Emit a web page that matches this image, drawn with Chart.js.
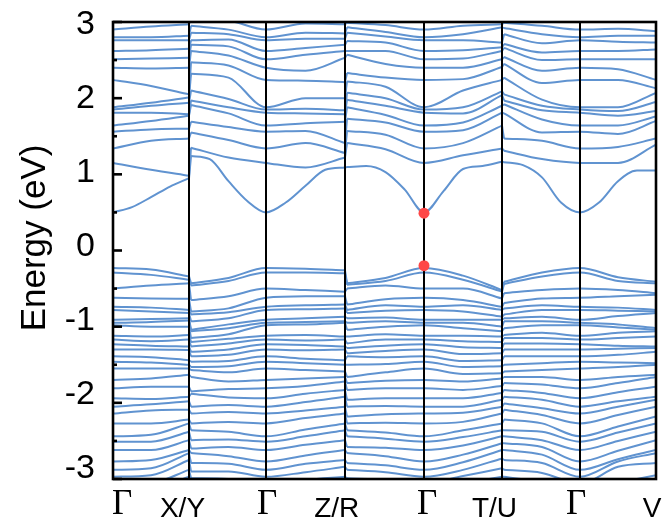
<!DOCTYPE html>
<html><head><meta charset="utf-8">
<script src="https://cdn.jsdelivr.net/npm/chart.js@4.4.0/dist/chart.umd.min.js"></script>
<style>html,body{margin:0;padding:0;background:#fff}#wrap{width:662px;height:526px}</style>
</head><body><div id="wrap"><canvas id="c" width="662" height="526"></canvas></div>
<script>
// ---- k-path ----
const kNodes  = [0, 0.76, 1.53, 2.32, 3.11, 3.89, 4.67, 5.43];
const kLabels = ['Γ', 'X/Y', 'Γ', 'Z/R', 'Γ', 'T/U', 'Γ', 'V'];
const yTicks  = [3, 2, 1, 0, -1, -2, -3];
// sample points along the path (duplicated nodes at X/Y, Z/R, T/U)
const kCoarse = [0, 0.38, 0.76, 0.78, 1.155, 1.53, 1.925, 2.32, 2.34, 2.725, 3.11, 3.50, 3.89, 3.91, 4.29, 4.67, 5.05, 5.43];
const kFine = [0, 0.19, 0.38, 0.57, 0.76,
               0.78, 0.9675, 1.155, 1.3425, 1.53,
               1.7275, 1.925, 2.1225, 2.32,
               2.34, 2.5325, 2.725, 2.9175, 3.11,
               3.305, 3.50, 3.695, 3.89,
               3.91, 4.10, 4.29, 4.48, 4.67,
               4.86, 5.05, 5.24, 5.43];
// lowest conduction band (on kFine)
const lowestCB = [0.50, 0.57, 0.70, 0.84, 0.95,
                  1.24, 1.20, 0.91, 0.65, 0.50,
                  0.63, 0.85, 1.06, 1.09,
                  1.095, 1.11, 1.03, 0.80, 0.50,
                  0.78, 1.07, 1.11, 1.165,
                  1.16, 1.12, 0.96, 0.63, 0.50,
                  0.63, 0.91, 1.05, 1.05];
// band gap edge markers at Γ (eV)
const gapEdges = [0.49, -0.20];

// ---- other conduction bands: energies at each kCoarse point ----
const cG  = [1.15,1.34,1.56,1.64,1.81,1.85,1.88,2.24,2.40,2.51,2.62,2.76,2.80,2.90,3.04];
const cM1 = [1.06,1.44,1.59,1.70,1.81,1.90,1.94,2.16,2.39,2.52,2.63,2.76,2.80,2.94,3.06];
const cX  = [0.98,1.47,1.60,1.77,1.79,1.94,2.01,2.05,2.40,2.53,2.65,2.76,2.82,2.97,3.08];
const cY  = [1.35,1.55,1.69,1.91,1.97,2.10,2.32,2.47,2.62,2.70,2.76,2.86,2.95,3.05,3.12];
const cM2 = [1.22,1.45,1.62,1.80,1.88,1.99,2.27,2.43,2.56,2.68,2.77,2.84,2.90,3.02,3.10];
const cM3 = [1.09,1.41,1.57,1.67,1.80,1.86,2.00,2.23,2.36,2.57,2.66,2.78,2.86,2.98,3.04];
const cZ  = [1.22,1.28,1.41,1.69,1.79,1.84,2.00,2.21,2.53,2.62,2.70,2.78,2.85,2.97,3.00];
const cR  = [1.41,1.57,1.73,1.88,1.98,2.07,2.22,2.33,2.57,2.62,2.75,2.86,2.93,2.99,3.05];
const cM4 = [1.33,1.52,1.68,1.78,1.90,2.00,2.15,2.27,2.45,2.62,2.73,2.81,2.87,2.96,3.03];
const cM5 = [1.25,1.41,1.58,1.68,1.80,1.88,2.10,2.25,2.40,2.52,2.63,2.76,2.84,2.95,3.02];
const cT  = [1.34,1.64,1.81,1.90,2.04,2.09,2.24,2.41,2.51,2.62,2.67,2.73,2.93,2.97,3.00];
const cU  = [1.31,1.47,1.80,1.92,1.97,2.05,2.27,2.45,2.54,2.66,2.71,2.84,2.92,2.99,3.06];
const cM6 = [1.20,1.44,1.55,1.72,1.84,1.90,1.98,2.20,2.36,2.50,2.60,2.72,2.84,2.95,3.04];
const cM7 = [1.15,1.36,1.53,1.64,1.77,1.83,1.88,2.24,2.38,2.51,2.62,2.74,2.82,2.91,3.03];
const cV  = [1.39,1.47,1.70,1.76,1.83,1.95,2.07,2.13,2.24,2.51,2.64,2.73,2.82,2.88,3.05];

// ---- valence bands: energies at each kCoarse point ----
const vG  = [-0.23,-0.29,-0.50,-0.62,-0.74,-0.78,-0.91,-0.95,-0.98,-1.12,-1.17,-1.23,-1.30,-1.39,-1.46,-1.55,-1.70,-1.81,-1.94,-2.05,-2.14,-2.27,-2.44,-2.51,-2.62,-2.77,-2.88,-2.97,-3.06,-3.15];
const vM1 = [-0.25,-0.32,-0.46,-0.63,-0.75,-0.80,-0.90,-0.94,-1.00,-1.13,-1.19,-1.25,-1.30,-1.40,-1.47,-1.55,-1.68,-1.79,-1.95,-2.02,-2.10,-2.27,-2.42,-2.51,-2.62,-2.75,-2.86,-2.95,-3.05,-3.14];
const vX  = [-0.34,-0.385,-0.43,-0.635,-0.78,-0.82,-0.89,-0.92,-1.00,-1.11,-1.17,-1.26,-1.305,-1.44,-1.50,-1.55,-1.63,-1.79,-1.92,-1.98,-2.09,-2.22,-2.27,-2.38,-2.49,-2.62,-2.66,-2.75,-2.88,-2.97];
const vY  = [-0.43,-0.46,-0.65,-0.80,-0.84,-0.93,-1.04,-1.06,-1.15,-1.20,-1.26,-1.33,-1.39,-1.46,-1.53,-1.57,-1.66,-1.85,-1.88,-2.05,-2.14,-2.27,-2.36,-2.49,-2.60,-2.66,-2.79,-2.90,-2.99,-3.08];
const vM2 = [-0.36,-0.40,-0.60,-0.76,-0.81,-0.89,-0.97,-1.02,-1.10,-1.16,-1.22,-1.30,-1.37,-1.45,-1.52,-1.60,-1.72,-1.82,-1.93,-2.03,-2.12,-2.25,-2.38,-2.48,-2.58,-2.70,-2.80,-2.90,-3.00,-3.10];
const vM3 = [-0.24,-0.29,-0.52,-0.60,-0.72,-0.77,-0.89,-0.94,-0.97,-1.11,-1.18,-1.24,-1.31,-1.42,-1.48,-1.57,-1.68,-1.78,-1.88,-1.99,-2.10,-2.20,-2.35,-2.44,-2.55,-2.69,-2.80,-2.91,-3.01,-3.10];
const vZ  = [-0.26,-0.30,-0.54,-0.60,-0.71,-0.76,-0.87,-0.93,-0.95,-1.13,-1.17,-1.26,-1.30,-1.44,-1.50,-1.59,-1.66,-1.72,-1.83,-1.92,-2.05,-2.14,-2.27,-2.36,-2.49,-2.62,-2.75,-2.84,-2.97,-3.06];
const vR  = [-0.43,-0.45,-0.50,-0.71,-0.78,-0.82,-0.89,-0.95,-1.04,-1.13,-1.22,-1.28,-1.35,-1.39,-1.50,-1.66,-1.74,-1.83,-1.96,-2.05,-2.18,-2.27,-2.36,-2.44,-2.58,-2.66,-2.79,-2.88,-2.99,-3.08];
const vM4 = [-0.36,-0.40,-0.46,-0.64,-0.72,-0.79,-0.88,-0.93,-1.00,-1.10,-1.17,-1.25,-1.32,-1.40,-1.49,-1.60,-1.71,-1.81,-1.94,-2.04,-2.15,-2.26,-2.39,-2.47,-2.59,-2.70,-2.82,-2.91,-3.01,-3.10];
const vM5 = [-0.33,-0.385,-0.50,-0.65,-0.72,-0.80,-0.91,-0.95,-1.02,-1.12,-1.19,-1.27,-1.36,-1.45,-1.53,-1.62,-1.72,-1.83,-1.94,-2.05,-2.13,-2.25,-2.36,-2.45,-2.56,-2.68,-2.78,-2.88,-2.96,-3.06];
const vT  = [-0.52,-0.54,-0.63,-0.74,-0.78,-0.87,-0.91,-1.00,-1.06,-1.13,-1.20,-1.28,-1.35,-1.44,-1.52,-1.61,-1.68,-1.78,-1.87,-1.96,-2.05,-2.14,-2.27,-2.36,-2.44,-2.53,-2.62,-2.73,-2.86,-2.97];
const vU  = [-0.41,-0.44,-0.56,-0.69,-0.76,-0.84,-0.89,-0.93,-1.02,-1.11,-1.15,-1.22,-1.30,-1.39,-1.50,-1.59,-1.66,-1.74,-1.83,-1.92,-2.01,-2.09,-2.22,-2.36,-2.44,-2.53,-2.62,-2.75,-2.88,-2.97];
const vM6 = [-0.29,-0.34,-0.52,-0.63,-0.72,-0.78,-0.87,-0.93,-0.98,-1.08,-1.15,-1.22,-1.30,-1.39,-1.48,-1.57,-1.66,-1.76,-1.87,-1.96,-2.07,-2.16,-2.27,-2.38,-2.49,-2.58,-2.68,-2.79,-2.92,-3.04];
const vM7 = [-0.35,-0.40,-0.52,-0.60,-0.75,-0.79,-0.86,-0.97,-1.01,-1.08,-1.15,-1.25,-1.29,-1.37,-1.47,-1.53,-1.66,-1.74,-1.86,-1.98,-2.05,-2.16,-2.31,-2.39,-2.50,-2.63,-2.74,-2.77,-2.84,-3.05];
const vV  = [-0.41,-0.43,-0.56,-0.58,-0.78,-0.80,-0.82,-1.02,-1.04,-1.06,-1.13,-1.26,-1.28,-1.33,-1.48,-1.50,-1.63,-1.66,-1.79,-1.92,-1.96,-2.05,-2.18,-2.27,-2.38,-2.49,-2.62,-2.66,-2.79,-2.95];

// columns in kCoarse order
const cbCols = [cG, cM1, cX, cY, cM2, cG, cM3, cZ, cR, cM4, cG, cM5, cT, cU, cM6, cG, cM7, cV];
const vbCols = [vG, vM1, vX, vY, vM2, vG, vM3, vZ, vR, vM4, vG, vM5, vT, vU, vM6, vG, vM7, vV];

// continuous pieces of the path (index ranges) and the jumps between them
const coarsePieces = [[0, 2], [3, 7], [8, 12], [13, 17]];
const finePieces   = [[0, 4], [5, 13], [14, 22], [23, 31]];

// ---- styles ----
const BAND_COLOR = 'rgb(96,147,208)';
const smoothStyle = { borderColor: BAND_COLOR, borderWidth: 2, pointRadius: 0,
  cubicInterpolationMode: 'monotone', fill: false, clip: 0 };
const jumpStyle = { borderColor: BAND_COLOR, borderWidth: 2, pointRadius: 0, tension: 0, fill: false, clip: 0 };

const datasets = [];
datasets.push({ type: 'scatter', data: gapEdges.map(e => ({ x: kNodes[4], y: e })),
  pointRadius: 5.5, pointBackgroundColor: '#ff4747', pointBorderWidth: 0, showLine: false, clip: false });
kNodes.slice(1, -1).forEach(k => datasets.push({ data: [{ x: k, y: -3 }, { x: k, y: 3 }],
  borderColor: '#000', borderWidth: 2, pointRadius: 0, clip: 0 }));

function addBand(ks, es, pieces) {
  const pts = ks.map((k, i) => ({ x: k, y: es[i] }));
  pieces.forEach(([a, b], j) => {
    datasets.push(Object.assign({ data: pts.slice(a, b + 1) }, smoothStyle));
    if (j < pieces.length - 1)
      datasets.push(Object.assign({ data: [pts[b], pts[pieces[j + 1][0]]] }, jumpStyle));
  });
}
addBand(kFine, lowestCB, finePieces);
for (let b = 0; b < cG.length; b++) addBand(kCoarse, cbCols.map(col => col[b]), coarsePieces);
for (let b = 0; b < vG.length; b++) addBand(kCoarse, vbCols.map(col => col[b]), coarsePieces);

const labelOffsets = [9, -6.5, 1, -8.3, 3, -7.5, -4, -4];
const decor = {
  id: 'decor',
  afterDatasetsDraw(chart) {
    const { ctx, chartArea: a, scales: { y: ys, x: xs } } = chart;
    ctx.save();
    ctx.strokeStyle = '#000'; ctx.lineWidth = 2.6;
    ctx.strokeRect(a.left, a.top, a.right - a.left, a.bottom - a.top);
    for (let v = -3; v <= 3.001; v += 0.5) {
      const py = ys.getPixelForValue(v);
      const len = Math.abs(v - Math.round(v)) < 0.01 ? 9 : 4;
      ctx.beginPath(); ctx.moveTo(a.left, py); ctx.lineTo(a.left + len, py); ctx.stroke();
    }
    ctx.fillStyle = '#000';
    ctx.font = '34px "Liberation Sans", Arial, sans-serif';
    ctx.textAlign = 'right'; ctx.textBaseline = 'alphabetic';
    yTicks.forEach(v => {
      const py = ys.getPixelForValue(v) - (3 - v) * 2.3 + 12.3;
      ctx.fillText(String(v), 95, py);
    });
    ctx.save();
    ctx.translate(45, 238); ctx.rotate(-Math.PI / 2);
    ctx.textAlign = 'center';
    ctx.font = '35px "Liberation Sans", Arial, sans-serif';
    ctx.fillText('Energy (eV)', 0, 0);
    ctx.restore();
    ctx.textAlign = 'center';
    kLabels.forEach((lab, i) => {
      const px = xs.getPixelForValue(kNodes[i]) + labelOffsets[i];
      if (lab === 'Γ') {
        ctx.font = '35px "Liberation Serif", "Times New Roman", serif';
        ctx.fillText(lab, px, 513.5);
      } else {
        ctx.font = '28px "Liberation Sans", Arial, sans-serif';
        ctx.fillText(lab, px, 516.5);
      }
    });
    ctx.restore();
  }
};

new Chart(document.getElementById('c'), {
  type: 'line',
  data: { datasets },
  options: {
    responsive: false, animation: false, devicePixelRatio: 1,
    layout: { padding: { left: 113, top: 22, right: 6, bottom: 47 } },
    scales: {
      x: { type: 'linear', min: 0, max: kNodes[kNodes.length - 1], display: false },
      y: { type: 'linear', min: -3, max: 3, display: false }
    },
    plugins: { legend: { display: false }, tooltip: { enabled: false } },
    elements: { line: { tension: 0 } }
  },
  plugins: [decor]
});
</script>
</body></html>
